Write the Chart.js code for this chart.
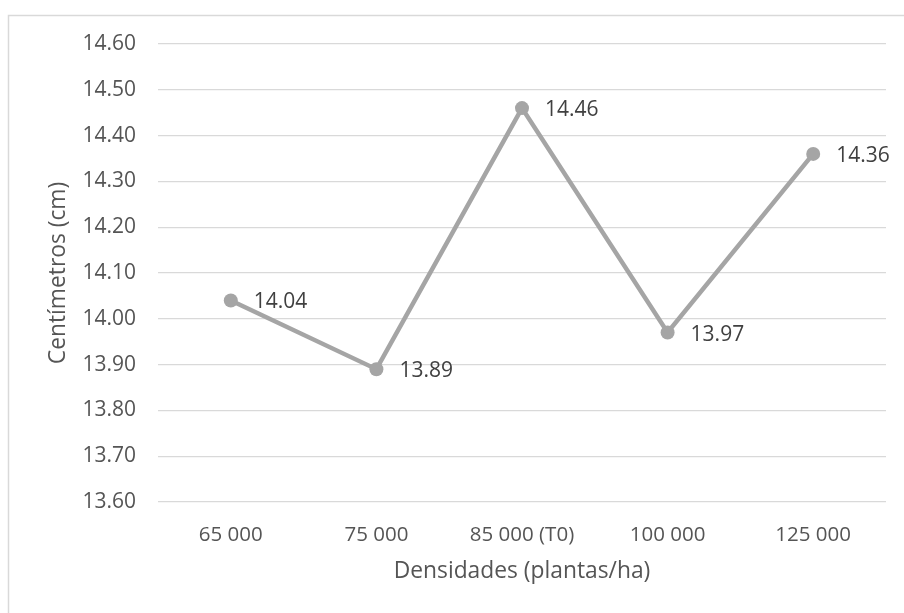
<!DOCTYPE html>
<html>
<head>
<meta charset="utf-8">
<script src="https://cdn.jsdelivr.net/npm/chart.js@4/dist/chart.umd.min.js"></script>
<style>
  html, body { margin: 0; padding: 0; background: #ffffff; }
  #wrap { width: 904px; height: 613px; }
</style>
</head>
<body>
<div id="wrap"><canvas id="chart" width="904" height="613"></canvas></div>
<script>
// Plant densities and mean length per density
const categories = ['65 000', '75 000', '85 000 (T0)', '100 000', '125 000'];
const lengthCm = [14.04, 13.89, 14.46, 13.97, 14.36];
const yTicks = [13.6, 13.7, 13.8, 13.9, 14.0, 14.1, 14.2, 14.3, 14.4, 14.5, 14.6];

const FONT = "'Open Sans', 'Liberation Sans', sans-serif";
const AXIS_TEXT = '#555555';
const LINE_GREY = '#a5a5a5';
const GRID_GREY = '#d9d9d9';

// Thin frame around the chart area (open to the right and bottom)
const framePlugin = {
  id: 'frame',
  beforeDraw(chart) {
    const ctx = chart.ctx;
    ctx.save();
    ctx.strokeStyle = GRID_GREY;
    ctx.lineWidth = 1.5;
    ctx.beginPath();
    ctx.moveTo(904, 15.5);
    ctx.lineTo(8.5, 15.5);
    ctx.lineTo(8.5, 613);
    ctx.stroke();
    ctx.restore();
  }
};

// Value labels placed to the right of each point
const valueLabels = {
  id: 'valueLabels',
  afterDatasetsDraw(chart) {
    const ctx = chart.ctx;
    const meta = chart.getDatasetMeta(0);
    const data = chart.data.datasets[0].data;
    ctx.save();
    ctx.font = '21px ' + FONT;
    ctx.fillStyle = '#404040';
    ctx.textAlign = 'left';
    ctx.textBaseline = 'middle';
    meta.data.forEach((pt, i) => {
      ctx.fillText(data[i].toFixed(2), pt.x + 23, pt.y + 2);
    });
    ctx.restore();
  }
};

new Chart(document.getElementById('chart'), {
  type: 'line',
  data: {
    labels: categories,
    datasets: [{
      data: lengthCm,
      borderColor: LINE_GREY,
      backgroundColor: LINE_GREY,
      borderWidth: 4.5,
      pointRadius: 7,
      pointBorderWidth: 0,
      pointBackgroundColor: LINE_GREY,
      tension: 0,
      fill: false
    }]
  },
  options: {
    responsive: false,
    animation: false,
    layout: { padding: { top: 44, right: 18, left: 0, bottom: 0 } },
    plugins: {
      legend: { display: false },
      tooltip: { enabled: false }
    },
    scales: {
      x: {
        offset: true,
        grid: { display: false, drawTicks: false },
        border: { display: false },
        ticks: {
          color: AXIS_TEXT,
          font: { family: FONT, size: 20.5 },
          padding: 21,
          maxRotation: 0
        },
        title: {
          display: true,
          text: 'Densidades (plantas/ha)',
          color: AXIS_TEXT,
          font: { family: FONT, size: 22.8 },
          padding: { top: 0, bottom: 28 }
        },
        afterFit(scale) { scale.height = 111; }
      },
      y: {
        min: 13.6,
        max: 14.6,
        afterBuildTicks(scale) {
          scale.ticks = yTicks.map(v => ({ value: v }));
        },
        grid: { color: GRID_GREY, lineWidth: 1.3, drawTicks: false },
        border: { display: false },
        ticks: {
          color: AXIS_TEXT,
          font: { family: FONT, size: 21 },
          padding: 22,
          callback: v => Number(v).toFixed(2)
        },
        title: {
          display: true,
          text: 'Centímetros (cm)',
          color: AXIS_TEXT,
          font: { family: FONT, size: 22.8 },
          padding: { top: 45, bottom: 0 }
        },
        afterFit(scale) { scale.width = 158; }
      }
    }
  },
  plugins: [framePlugin, valueLabels]
});
</script>
</body>
</html>
